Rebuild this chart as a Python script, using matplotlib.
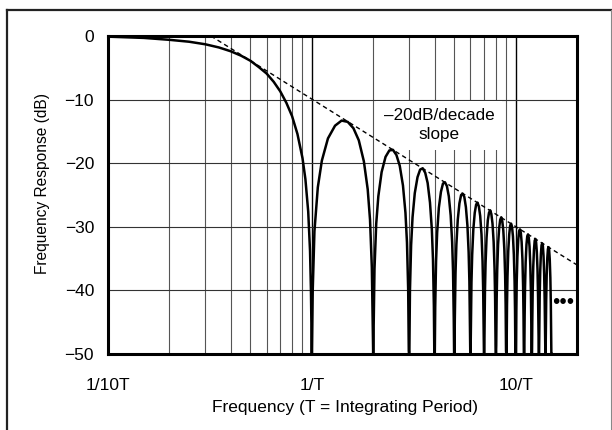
import matplotlib
matplotlib.use("Agg")
import matplotlib.pyplot as plt
from matplotlib.lines import Line2D
from matplotlib.patches import Rectangle
from matplotlib.ticker import FixedLocator, NullFormatter

plt.rcParams['font.family'] = ['Liberation Sans', 'DejaVu Sans']

# ---- data ----
# main lobe (frequency in units of 1/T, response in dB)
main_f = [0.1, 0.15, 0.2, 0.25, 0.3, 0.35, 0.4, 0.45, 0.5, 0.55, 0.6, 0.65,
          0.7, 0.75, 0.8, 0.85, 0.9, 0.93, 0.96, 0.98, 0.99, 1.0]
main_db = [-0.1, -0.3, -0.6, -0.9, -1.3, -1.8, -2.4, -3.1, -3.9, -4.9, -5.9, -7.2,
           -8.7, -10.5, -12.6, -15.4, -19.2, -22.5, -27.6, -33.8, -39.9, -50]

# side lobes: lobe n spans n/T .. (n+1)/T, sampled at the offsets below
lobe_start = [1, 2, 3, 4, 5, 6, 7, 8, 9, 10, 11, 12, 13, 14]
lobe_offsets = [0, 0.01, 0.03, 0.07, 0.12, 0.2, 0.3, 0.4, 0.5, 0.6, 0.7, 0.8,
                0.88, 0.93, 0.97, 0.99, 1.0]
lobe_db = [
    [-50, -40.1, -30.7, -23.8, -19.6, -16.1, -14.1, -13.3, -13.5, -14.5, -16.4, -19.7, -24.1, -28.9, -36.4, -46.0, -50],
    [-50, -46.1, -36.6, -29.5, -25.2, -21.4, -19.0, -18.0, -17.9, -18.7, -20.4, -23.5, -27.8, -32.5, -39.9, -49.5, -50],
    [-50, -49.6, -40.1, -32.9, -28.5, -24.7, -22.2, -21.0, -20.8, -21.5, -23.1, -26.2, -30.4, -35.1, -42.4, -50, -50],
    [-50, -50, -42.6, -35.4, -30.9, -27.0, -24.5, -23.2, -23.0, -23.6, -25.2, -28.2, -32.4, -37.0, -44.4, -50, -50],
    [-50, -50, -44.5, -37.3, -32.8, -28.9, -26.3, -25.0, -24.8, -25.3, -26.9, -29.8, -34.0, -38.6, -46.0, -50, -50],
    [-50, -50, -46.1, -38.8, -34.4, -30.4, -27.8, -26.5, -26.2, -26.8, -28.3, -31.2, -35.4, -40.0, -47.3, -50, -50],
    [-50, -50, -47.4, -40.2, -35.7, -31.7, -29.0, -27.8, -27.4, -28.0, -29.5, -32.4, -36.6, -41.2, -48.5, -50, -50],
    [-50, -50, -48.6, -41.3, -36.8, -32.8, -30.2, -28.9, -28.5, -29.1, -30.6, -33.5, -37.6, -42.2, -49.5, -50, -50],
    [-50, -50, -49.6, -42.3, -37.8, -33.8, -31.2, -29.8, -29.5, -30.0, -31.5, -34.4, -38.5, -43.1, -50, -50, -50],
    [-50, -50, -50, -43.2, -38.7, -34.7, -32.0, -30.7, -30.4, -30.9, -32.4, -35.2, -39.4, -43.9, -50, -50, -50],
    [-50, -50, -50, -44.0, -39.5, -35.5, -32.8, -31.5, -31.2, -31.7, -33.1, -36.0, -40.1, -44.7, -50, -50, -50],
    [-50, -50, -50, -44.8, -40.3, -36.3, -33.6, -32.2, -31.9, -32.4, -33.9, -36.7, -40.8, -45.4, -50, -50, -50],
    [-50, -50, -50, -45.5, -41.0, -37.0, -34.3, -32.9, -32.6, -33.0, -34.5, -37.4, -41.5, -46.0, -50, -50, -50],
    [-50, -50, -50, -46.1, -41.6, -37.6, -34.9, -33.5, -33.2, -33.7, -35.1, -38.0, -42.1, -46.6, -50, -50, -50],
]

# -20 dB/decade asymptote
slope_f = [0.32, 20.0]
slope_db = [0.0, -36.0]

x_ticks = [0.1, 1, 10]
x_tick_labels = ['1/10T', '1/T', '10/T']
y_ticks = [0, -10, -20, -30, -40, -50]
y_tick_labels = ['0', '\u221210', '\u221220', '\u221230', '\u221240', '\u221250']
minor_grid_f = [0.2, 0.3, 0.4, 0.5, 0.6, 0.7, 0.8, 0.9, 2, 3, 4, 5, 6, 7, 8, 9]

# ---- build curve ----
curve_f = list(main_f)
curve_db = list(main_db)
for n, row in zip(lobe_start, lobe_db):
    curve_f += [n + t for t in lobe_offsets]
    curve_db += row

fig = plt.figure(figsize=(6.12, 4.30), dpi=100)
ax = fig.add_axes([108/612, (430-354)/430, (577-108)/612, (354-36)/430])
ax.set_xscale('log')
ax.set_xlim(0.1, 20.0)
ax.set_ylim(-50, 0)

# grid
for f in minor_grid_f:
    ax.axvline(f, color='#555555', lw=0.8, zorder=1)
for f in [1, 10]:
    ax.axvline(f, color='black', lw=1.0, zorder=1)
for yv in [-10, -20, -30, -40]:
    ax.axhline(yv, color='#333333', lw=0.8, zorder=1)

# label box (white background hiding grid)
ax.add_patch(Rectangle(((376-108)/469, (354-150)/318), (502-376)/469, (150-101)/318,
                       transform=ax.transAxes, facecolor='white', edgecolor='none', zorder=2))
ax.text((439-108)/469, (354-125)/318, '\u201320dB/decade\nslope', transform=ax.transAxes,
        ha='center', va='center', fontsize=12.3, linespacing=1.25, zorder=3)

ax.plot(slope_f, slope_db, color='black', lw=1.0, linestyle=(0, (3.2, 2.4)), zorder=3)
ax.plot(curve_f, curve_db, color='black', lw=1.8, solid_joinstyle='round', zorder=4)

ax.text((563-108)/469, (354-302)/318, '\u2022\u2022\u2022', transform=ax.transAxes,
        ha='center', va='center', fontsize=15, zorder=5)

ax.xaxis.set_major_locator(FixedLocator(x_ticks))
ax.set_xticklabels(x_tick_labels)
ax.xaxis.set_minor_locator(FixedLocator(minor_grid_f))
ax.xaxis.set_minor_formatter(NullFormatter())
ax.set_yticks(y_ticks)
ax.set_yticklabels(y_tick_labels)
ax.tick_params(axis='both', which='both', length=0, labelsize=12.5)
ax.tick_params(axis='x', pad=17.5)
ax.tick_params(axis='y', pad=10)

for sp in ax.spines.values():
    sp.set_linewidth(2.2)
    sp.set_color('black')
    sp.set_zorder(6)

ax.set_xlabel('Frequency (T = Integrating Period)', fontsize=12.5)
ax.set_ylabel('Frequency Response (dB)', fontsize=11.2)
ax.xaxis.set_label_coords((345-108)/469, (354-400)/318)
ax.yaxis.set_label_coords((50-108)/469, (354-184)/318)

# figure frame
fig.add_artist(Line2D([7/612, 1.0], [1-9.5/430, 1-9.5/430], transform=fig.transFigure, color='#222222', lw=1.6))
fig.add_artist(Line2D([7/612, 7/612], [0, 1-9.5/430], transform=fig.transFigure, color='#222222', lw=1.6))
fig.add_artist(Line2D([611/612, 611/612], [0, 1-9.5/430], transform=fig.transFigure, color='#888888', lw=0.8))

fig.savefig('out.png', dpi=100)
